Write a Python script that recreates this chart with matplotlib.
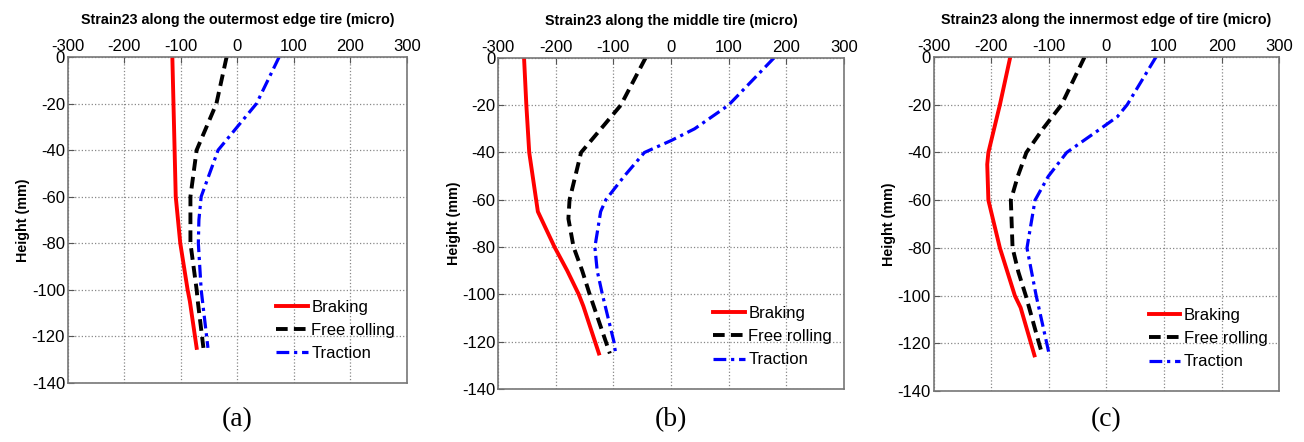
import numpy as np
import matplotlib
matplotlib.use('Agg')
import matplotlib.pyplot as plt

plt.rcParams['font.family'] = ['Liberation Sans', 'DejaVu Sans']
plt.rcParams['axes.unicode_minus'] = False

# alturas (mm) e deformações (micro)
h_a = [0, -20, -40, -60, -80, -100, -105, -125]
brk_a = [-115, -113, -111, -109, -101, -88, -84, -72]
free_a = [-19, -37, -72, -83, -83, -72, -70, -60]
trac_a_h = [0, -20, -30, -40, -50, -60, -70, -80, -100, -125]
trac_a = [74, 34, 0, -34, -49, -64, -68, -69, -64, -52]

h_b = [0, -20, -40, -60, -65, -80, -90, -100, -105, -125]
brk_b = [-255, -251, -246, -234, -231, -202, -180, -160, -152, -125]
free_b_h = [0, -20, -40, -60, -68, -80, -90, -100, -120, -125]
free_b = [-44, -87, -156, -176, -178, -169, -154, -141, -113, -106]
trac_b_h = [0, -20, -30, -35, -40, -50, -60, -65, -80, -90, -100, -120, -125]
trac_b = [179, 100, 41, 0, -46, -81, -113, -122, -132, -128, -119, -99, -96]

h_c = [0, -20, -40, -45, -60, -80, -90, -100, -105, -125]
brk_c = [-167, -185, -205, -207, -205, -185, -172, -159, -149, -125]
free_c_h = [0, -20, -30, -40, -50, -60, -80, -90, -100, -120, -125]
free_c = [-38, -78, -110, -139, -154, -166, -163, -153, -140, -117, -111]
trac_c_h = [0, -20, -25, -30, -40, -50, -60, -70, -80, -100, -125]
trac_c = [86, 36, 19, -10, -69, -101, -124, -131, -138, -122, -99]

titles = ['Strain23 along the outermost edge tire (micro)',
          'Strain23 along the middle tire (micro)',
          'Strain23 along the innermost edge of tire (micro)']
labels = ['(a)', '(b)', '(c)']
panels = [
    (h_a, brk_a, h_a, free_a, trac_a_h, trac_a),
    (h_b, brk_b, free_b_h, free_b, trac_b_h, trac_b),
    (h_c, brk_c, free_c_h, free_c, trac_c_h, trac_c),
]
boxes = [[0.052, 0.134, 0.260, 0.737],
         [0.382, 0.120, 0.265, 0.749],
         [0.716, 0.115, 0.265, 0.756]]

fig = plt.figure(figsize=(13.04, 4.42), dpi=100)

for i in range(3):
    ax = fig.add_axes(boxes[i])
    hb, b, hf, f, ht, t = panels[i]
    ax.plot(b, hb, color='red', lw=2.8, label='Braking')
    ax.plot(f, hf, color='black', lw=2.8, ls=(0, (3, 1.6)), label='Free rolling')
    ax.plot(t, ht, color='blue', lw=2.3, ls=(0, (4, 1.5, 1, 1.5)), label='Traction')

    ax.set_xlim(-300, 300)
    ax.set_ylim(-140, 0)
    ax.set_xticks(np.arange(-300, 301, 100))
    ax.set_yticks(np.arange(-140, 1, 20))
    ax.xaxis.tick_top()
    ax.tick_params(direction='in', labelsize=12, length=4, color='#555555', pad=2)
    ax.grid(True, ls=':', color='#888888', lw=0.9)
    for s in ax.spines.values():
        s.set_color('#777777')
        s.set_linewidth(1.2)
    ax.set_title(titles[i], fontsize=10.3, fontweight='bold', pad=24)
    ax.set_ylabel('Height (mm)', fontsize=10.3, fontweight='bold', labelpad=1)
    ax.legend(loc='lower right', bbox_to_anchor=(1.0, 0.03), frameon=False,
              fontsize=12, handlelength=1.9, handletextpad=0.2,
              labelspacing=0.5, borderaxespad=0.3)
    fig.text(boxes[i][0] + boxes[i][2] / 2, 0.05, labels[i], ha='center',
             va='center', fontsize=20, family='Liberation Serif')

fig.savefig('out.png', dpi=100)
